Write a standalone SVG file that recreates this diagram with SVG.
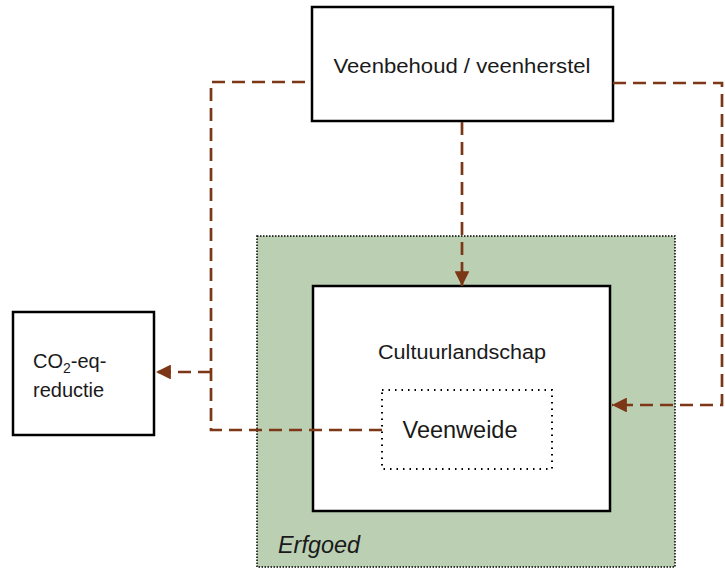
<svg xmlns="http://www.w3.org/2000/svg" width="725" height="569" viewBox="0 0 725 569">
<style>
.box{fill:#fff;stroke:#000;stroke-width:2.5}
.lbl{font-family:"Liberation Sans",Arial,sans-serif;fill:#1a1a1a}
.conn{fill:none;stroke:#7B3716;stroke-width:2.7;stroke-dasharray:13 7}
</style>
<defs>
<marker id="arr" viewBox="0 0 10 10" refX="10" refY="5" markerWidth="5.5" markerHeight="5.5" markerUnits="strokeWidth" orient="auto">
<path d="M0,0 L10,5 L0,10 z" fill="#7B3716"/>
</marker>
</defs>
<rect width="725" height="569" fill="#fff"/>
<g id="erfgoed">
<rect x="257" y="236" width="418" height="331" fill="#BBCFB3" stroke="#000" stroke-width="1.5" stroke-dasharray="1.5 1.5"/>
<text class="lbl" x="278" y="553" font-size="23" font-style="italic" textLength="82" lengthAdjust="spacingAndGlyphs">Erfgoed</text>
</g>
<g id="cultuurlandschap">
<rect class="box" x="313" y="286" width="297" height="225"/>
<text class="lbl" x="462" y="359" font-size="19.5" text-anchor="middle" textLength="168" lengthAdjust="spacingAndGlyphs">Cultuurlandschap</text>
</g>
<g id="veenweide">
<rect x="382" y="390" width="170" height="79" fill="#fff" stroke="#000" stroke-width="2" stroke-dasharray="1.5 5"/>
<text class="lbl" x="460" y="438" font-size="23.5" text-anchor="middle">Veenweide</text>
</g>
<g id="veenbehoud">
<rect class="box" x="312" y="7" width="301" height="114"/>
<text class="lbl" x="462" y="73" font-size="19.5" text-anchor="middle" textLength="257" lengthAdjust="spacingAndGlyphs">Veenbehoud / veenherstel</text>
</g>
<g id="co2">
<rect class="box" x="13" y="312" width="141" height="123"/>
<text class="lbl" x="33" y="368" font-size="20">CO<tspan font-size="14" dy="5">2</tspan><tspan dy="-5">-eq-</tspan></text>
<text class="lbl" x="33" y="397" font-size="20">reductie</text>
</g>
<g id="connectors">
<path class="conn" d="M462,122 V286" marker-end="url(#arr)"/>
<path class="conn" d="M613,83 H722 V405 H612" marker-end="url(#arr)"/>
<path class="conn" d="M382,430 H211 V82 H312"/>
<path class="conn" d="M211,372 H156" marker-end="url(#arr)"/>
</g>
</svg>
